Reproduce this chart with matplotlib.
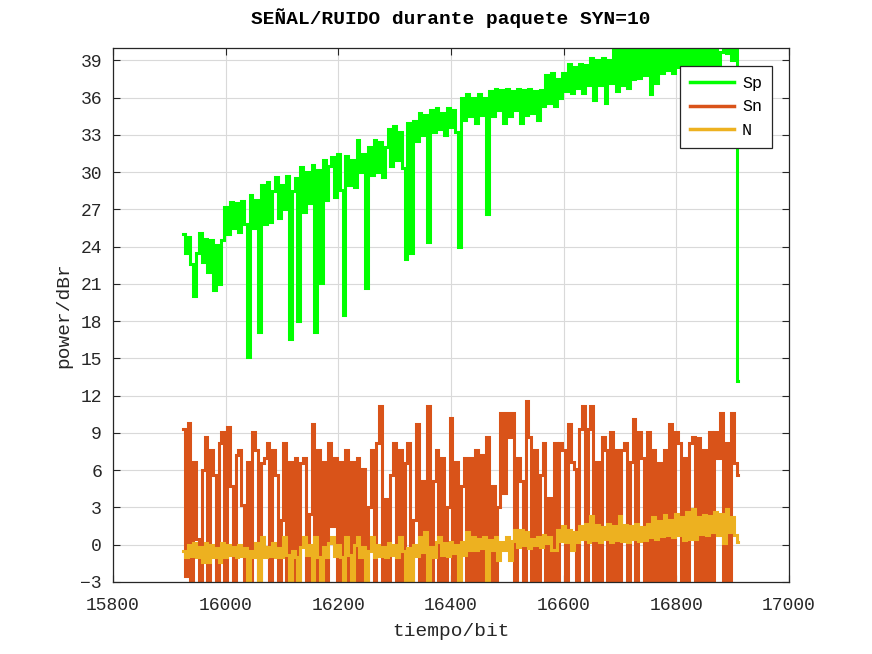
import numpy as np
import matplotlib
matplotlib.use("Agg")
import matplotlib.pyplot as plt

# time axis: one sample every 5 bits
t_start, t_step, n_samples = 15925, 5, 198
tiempo = t_start + t_step * np.arange(n_samples)

Sp = [
    25.0, 23.5, 24.8, 22.6, 20.0, 23.5, 25.1, 22.8, 24.6, 22.0,
    24.5, 20.5, 24.1, 21.0, 24.5, 27.2, 25.0, 27.6, 25.5, 27.5,
    25.2, 27.7, 25.8, 15.1, 28.2, 25.5, 27.8, 17.1, 29.0, 25.8,
    29.2, 26.0, 28.5, 29.6, 26.3, 29.0, 27.0, 29.7, 16.6, 28.5,
    29.5, 18.0, 30.4, 26.8, 30.0, 27.5, 30.6, 17.1, 30.2, 21.1,
    31.0, 27.8, 30.5, 31.2, 28.0, 31.5, 28.6, 18.5, 31.3, 29.0,
    31.0, 28.8, 32.6, 30.0, 31.5, 20.7, 32.0, 29.8, 32.6, 30.0,
    32.4, 29.6, 32.0, 33.5, 30.5, 33.7, 31.0, 33.2, 30.3, 23.0,
    34.0, 23.5, 34.1, 32.5, 34.8, 33.0, 34.6, 24.4, 35.0, 33.2,
    35.2, 33.5, 34.8, 33.0, 35.2, 33.6, 35.0, 33.2, 24.0, 36.0,
    34.2, 36.3, 34.5, 36.0, 34.0, 36.3, 34.6, 36.0, 26.6, 36.5,
    34.5, 36.7, 35.0, 36.6, 34.0, 36.7, 34.5, 36.5, 35.0, 36.7,
    34.0, 36.6, 34.6, 36.7, 34.8, 36.5, 34.2, 36.6, 35.3, 37.8,
    35.6, 38.0, 35.3, 37.5, 36.0, 38.0, 36.5, 38.7, 36.4, 38.5,
    36.8, 38.7, 36.4, 38.6, 37.0, 39.2, 35.8, 39.0, 37.0, 39.2,
    35.6, 39.0, 37.2, 40.3, 36.5, 40.5, 37.0, 40.5, 36.8, 40.5,
    37.5, 40.8, 37.6, 40.6, 37.8, 40.8, 36.3, 40.6, 37.2, 40.8,
    38.0, 40.7, 38.2, 40.8, 38.0, 40.5, 38.5, 40.8, 38.0, 40.6,
    38.2, 40.8, 38.0, 40.6, 38.4, 40.8, 38.1, 40.7, 38.3, 40.6,
    38.0, 39.7, 40.8, 39.6, 40.8, 39.0, 40.6, 13.2,
]

Sn = [
    9.3, -2.5, 9.8, -5.0, 6.7, 0.5, -4.0, 6.0, 8.7, -4.0,
    7.6, 5.6, -4.0, 8.2, 9.1, -5.0, 9.5, 4.7, -3.5, 7.2,
    7.6, 3.2, -4.0, 6.7, -4.0, 9.1, 7.6, -5.0, 6.6, 7.0,
    8.2, -4.0, 7.6, 5.6, -4.0, 2.0, 8.2, -5.0, 6.7, -4.0,
    7.0, -3.0, 6.6, 7.0, -4.0, 2.5, 9.7, -5.0, 7.6, -4.0,
    6.7, -5.0, 8.2, 1.5, 7.0, -4.0, 6.7, -5.0, 7.6, -4.0,
    6.7, -3.0, 7.0, -4.0, 6.1, -5.0, 3.0, 7.6, -4.0, 8.2,
    11.2, -5.0, 3.7, -4.0, 5.6, 8.2, -5.0, 7.6, -4.0, 6.6,
    8.2, -5.0, 2.0, 9.7, -4.0, 5.1, -5.0, 11.2, -4.0, 5.1,
    7.6, -4.0, 7.0, -5.0, 3.0, 10.2, -4.0, 6.7, -5.0, 4.7,
    7.0, -4.0, 7.0, -4.0, 7.6, -3.0, 7.2, -5.0, 8.7, -4.0,
    4.7, -5.0, 3.0, 10.6, 4.2, 10.6, 8.7, 10.6, -5.0, 7.0,
    5.1, -4.0, 11.6, 8.7, -4.0, 7.6, -5.0, 5.6, 8.2, -4.0,
    3.8, -5.0, 8.2, -4.0, 8.2, 7.6, -5.0, 9.7, 6.7, 6.1,
    -4.0, 9.3, 11.2, -5.0, 9.3, 11.2, -4.0, 6.7, -3.0, 8.7,
    7.6, -5.0, 9.1, -4.0, 7.6, -5.0, 7.6, 8.2, -4.0, 6.7,
    10.1, -5.0, 9.1, 7.0, -4.0, 9.1, -5.0, 7.6, -4.0, 6.6,
    -5.0, 7.6, -4.0, 9.7, -5.0, 9.1, 8.2, -4.0, 7.0, -5.0,
    8.2, 8.7, -4.0, 8.6, -5.0, 7.6, -4.0, 9.1, -5.0, 9.1,
    7.0, 10.6, -4.0, 8.2, -5.0, 10.6, 6.6, 5.6,
]

N = [
    -0.5, -1.0, 0.0, -0.9, 0.1, -1.0, -0.2, -1.4, 0.1, -1.4,
    0.0, -1.0, -0.3, -1.4, 0.1, -1.0, 0.0, -0.8, -0.2, -1.0,
    0.0, -0.9, -0.3, -3.8, -0.5, -1.0, 0.1, -3.8, 0.6, -1.0,
    -0.2, -0.9, 0.1, -1.0, -0.3, -1.0, 0.6, -0.8, -3.8, -0.5,
    -1.0, -3.8, -0.2, 0.6, -0.8, 0.0, -3.8, 0.6, -1.0, -3.8,
    -0.2, -1.0, 0.1, 0.6, -0.9, 0.0, -1.0, -3.8, 0.6, -0.8,
    -3.8, 0.0, 0.6, -1.0, -0.2, -3.8, -0.5, 0.6, -1.0, 0.0,
    -0.9, -0.2, -1.0, 0.1, -0.8, 0.0, -1.0, 0.6, -0.5, -3.8,
    -0.3, -3.8, 0.0, -0.9, 0.6, -0.6, 1.0, -3.8, -0.2, -1.0,
    0.2, 0.6, -0.8, 0.1, -0.9, 0.2, -0.7, 0.0, -3.8, 0.2,
    -0.8, 1.0, -0.4, 0.6, -0.4, 0.5, -0.3, 0.6, -3.8, 0.4,
    -0.4, 0.6, -1.2, 0.2, -0.4, 0.6, -1.2, 0.3, 1.2, -0.2,
    1.2, 0.0, 1.0, -0.3, 0.5, 0.0, 0.6, -0.2, 0.8, 0.1,
    0.6, -0.4, -0.4, 1.2, 0.3, 1.5, 0.2, 1.2, -0.4, 1.0,
    0.2, 1.5, 0.5, 1.7, 0.2, 2.3, 0.4, 1.6, 0.2, 1.4,
    0.5, 1.7, 0.2, 1.5, 0.4, 2.3, 0.3, 1.6, 0.2, 1.5,
    0.5, 1.7, 0.3, 1.4, 0.4, 1.7, 0.6, 2.2, 0.5, 1.9,
    0.7, 2.4, 0.8, 2.0, 0.6, 2.5, 0.8, 2.2, 0.4, 2.6,
    0.5, 2.9, 0.5, 2.2, 0.9, 2.4, 0.8, 2.3, 1.0, 2.6,
    0.8, 2.5, 0.1, 2.9, 1.0, 2.2, 0.8, 0.2,
]

series_labels = ["Sp", "Sn", "N"]
series_colors = ["#00FF00", "#D95319", "#EDB120"]
x_ticks = [15800, 16000, 16200, 16400, 16600, 16800, 17000]
y_ticks = list(range(-3, 40, 3))

FONT = ["Liberation Mono", "DejaVu Sans Mono"]
plt.rcParams["font.family"] = FONT
TXT = "#262626"

fig = plt.figure(figsize=(8.72, 6.54), dpi=100)
ax = fig.add_axes([0.1296, 0.1101, 0.7752, 0.8165])

for vals, lab, col in zip([Sp, Sn, N], series_labels, series_colors):
    ax.plot(tiempo, vals, color=col, lw=2.2, label=lab, drawstyle="steps-mid",
            solid_joinstyle="miter")

ax.set_xlim(15800, 17000)
ax.set_ylim(-3, 40)
ax.set_xticks(x_ticks)
ax.set_yticks(y_ticks)
ax.grid(True, color="#d9d9d9", lw=0.8)
ax.set_axisbelow(True)
ax.tick_params(axis="both", direction="in", top=True, right=True, length=5,
               width=0.8, colors=TXT, labelsize=13)
ax.tick_params(axis="x", pad=11)
ax.tick_params(axis="y", pad=8)
for s in ax.spines.values():
    s.set_color(TXT)
    s.set_linewidth(0.9)

ax.set_xlabel("tiempo/bit", fontsize=14, color=TXT, labelpad=6)
ax.set_ylabel("power/dBr", fontsize=14, color=TXT, labelpad=6)
ax.set_title("SEÑAL/RUIDO durante paquete SYN=10", fontsize=14,
             fontweight="bold", color="black", pad=17)

leg = ax.legend(loc="upper right", bbox_to_anchor=(0.975, 0.966), borderaxespad=0,
                fontsize=12, handlelength=2.6, handletextpad=0.5, labelspacing=0.5,
                fancybox=False, framealpha=1, edgecolor=TXT, borderpad=0.6)
leg.get_frame().set_linewidth(0.9)
for line in leg.get_lines():
    line.set_linewidth(2.5)

fig.savefig("out.png", dpi=100)
